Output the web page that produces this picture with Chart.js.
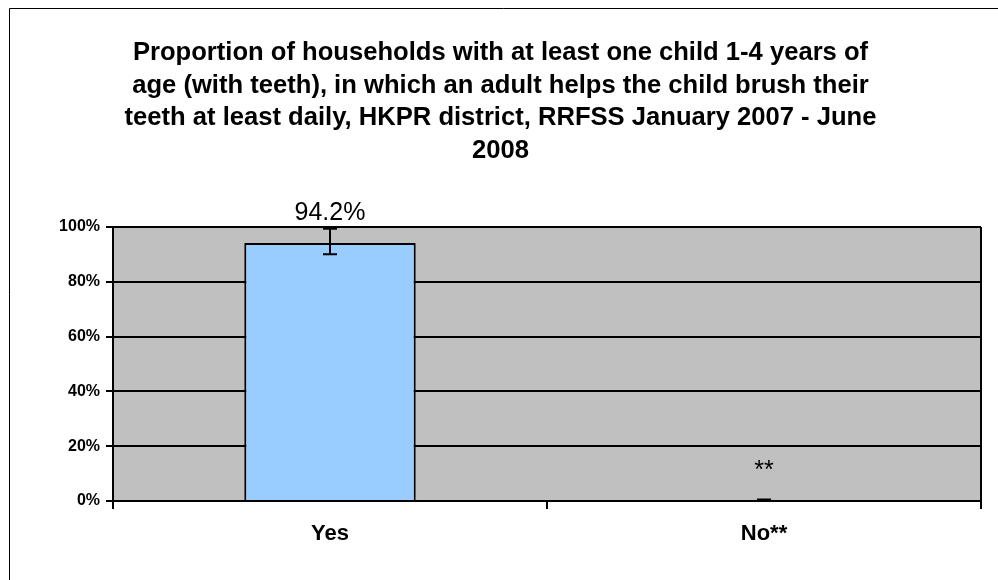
<!DOCTYPE html>
<html lang="en">
<head>
<meta charset="UTF-8">
<title>Proportion of households - child brushing</title>
<script src="https://cdn.jsdelivr.net/npm/chart.js"></script>
<style>
  html, body { margin: 0; padding: 0; background: #fff; }
  canvas { display: block; }
</style>
</head>
<body>
<canvas id="chart" width="998" height="580"></canvas>
<script>
// data
const categories = ['Yes', 'No**'];
const values = [94.2, 0];
const ciLow = [90.1, 0];
const ciHigh = [99.2, 0];
const valueLabels = ['94.2%', '**'];
const yTicks = [0, 20, 40, 60, 80, 100];
const titleLines = [
  'Proportion of households with at least one child 1-4 years of',
  'age (with teeth), in which an adult helps the child brush their',
  'teeth at least daily, HKPR district, RRFSS January 2007 - June',
  '2008'
];

const FONT = "'Liberation Sans', Arial, sans-serif";

// white page, outer frame and grey plot area
const framePlugin = {
  id: 'frame',
  beforeDraw(chart) {
    const ctx = chart.ctx, a = chart.chartArea;
    ctx.save();
    ctx.fillStyle = '#fff';
    ctx.fillRect(0, 0, chart.width, chart.height);
    ctx.strokeStyle = '#000';
    ctx.lineWidth = 1;
    ctx.beginPath();
    ctx.moveTo(9.5, chart.height);
    ctx.lineTo(9.5, 8.5);
    ctx.lineTo(chart.width, 8.5);
    ctx.stroke();
    ctx.fillStyle = '#c0c0c0';
    ctx.fillRect(a.left, a.top, a.right - a.left, a.bottom - a.top);
    ctx.restore();
  },
  afterDatasetsDraw(chart) {
    const ctx = chart.ctx, a = chart.chartArea;
    ctx.save();
    ctx.strokeStyle = '#000';
    ctx.lineWidth = 2;
    ctx.beginPath();
    ctx.moveTo(a.right, a.top);
    ctx.lineTo(a.right, a.bottom);
    ctx.stroke();
    ctx.restore();
  }
};

// error bars and value labels
const errorBarPlugin = {
  id: 'errorBars',
  afterDatasetsDraw(chart, args, opts) {
    const ctx = chart.ctx;
    const y = chart.scales.y;
    const meta = chart.getDatasetMeta(0);
    ctx.save();
    ctx.strokeStyle = '#000';
    ctx.lineWidth = 2;
    meta.data.forEach((bar, i) => {
      const x = Math.round(bar.x);
      const yl = y.getPixelForValue(ciLow[i]);
      const yh = y.getPixelForValue(ciHigh[i]);
      ctx.beginPath();
      ctx.moveTo(x, yl);
      ctx.lineTo(x, yh);
      ctx.moveTo(x - 7, yl);
      ctx.lineTo(x + 7, yl);
      ctx.stroke();
      // the upper cap is drawn a bit heavier, as in the source
      ctx.lineWidth = 3;
      ctx.beginPath();
      ctx.moveTo(x - 7, yh - 1);
      ctx.lineTo(x + 7, yh - 1);
      ctx.stroke();
      ctx.lineWidth = 2;
    });
    ctx.fillStyle = '#000';
    ctx.textAlign = 'center';
    ctx.textBaseline = 'middle';
    ctx.font = '25px ' + FONT;
    meta.data.forEach((bar, i) => {
      const yh = y.getPixelForValue(ciHigh[i]);
      ctx.fillText(valueLabels[i], bar.x, yh - opts.offsets[i]);
    });
    ctx.restore();
  }
};

new Chart(document.getElementById('chart'), {
  type: 'bar',
  data: {
    labels: categories,
    datasets: [{
      data: values,
      backgroundColor: '#99ccff',
      borderColor: '#000',
      borderWidth: 2,
      borderSkipped: 'bottom',
      categoryPercentage: 1,
      barPercentage: 0.395
    }]
  },
  options: {
    responsive: false,
    devicePixelRatio: 1,
    animation: false,
    layout: { padding: { top: 10, left: 20, right: 17, bottom: 0 } },
    plugins: {
      legend: { display: false },
      tooltip: { enabled: false },
      title: {
        display: true,
        text: titleLines,
        color: '#000',
        font: { family: FONT, size: 25.6, weight: 'bold', lineHeight: 1.27 },
        padding: { top: 27, bottom: 60 }
      },
      errorBars: { offsets: [16, 30] }
    },
    scales: {
      x: {
        grid: { offset: true, drawOnChartArea: false, drawTicks: true, tickLength: 8, color: '#000', lineWidth: 2 },
        border: { display: true, color: '#000', width: 2 },
        ticks: { color: '#000', font: { family: FONT, size: 22, weight: 'bold' }, padding: 12 },
        afterFit(scale) { scale.height = 79; }
      },
      y: {
        min: 0,
        max: 100,
        afterBuildTicks(scale) { scale.ticks = yTicks.map(v => ({ value: v })); },
        grid: { color: '#000', lineWidth: 2, tickLength: 7, drawTicks: true },
        border: { display: true, color: '#000', width: 2 },
        ticks: { color: '#000', font: { family: FONT, size: 16, weight: 'bold' }, padding: 6, callback: v => v + '%' },
        afterFit(scale) { scale.width = 93; }
      }
    }
  },
  plugins: [framePlugin, errorBarPlugin]
});
</script>
</body>
</html>
